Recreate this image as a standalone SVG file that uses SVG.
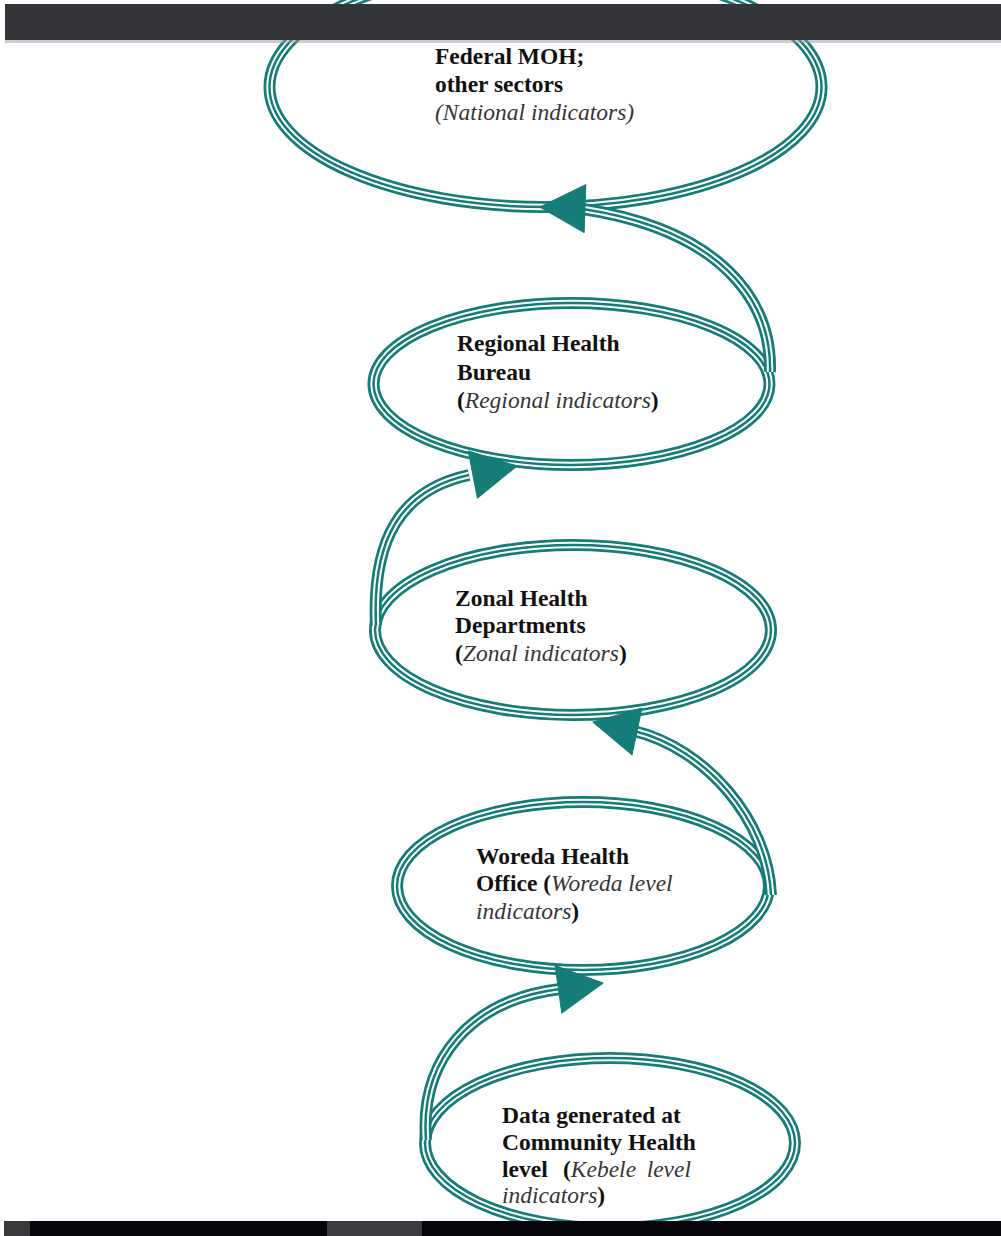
<svg xmlns="http://www.w3.org/2000/svg" width="1001" height="1236" viewBox="0 0 1001 1236">
<style>
.o{fill:none;stroke:#157c77;stroke-width:12}
.w{fill:none;stroke:#ffffff;stroke-width:6.5}
.n{fill:none;stroke:#157c77;stroke-width:2.5}
.ah{fill:#157c77;stroke:#157c77;stroke-width:1;stroke-linejoin:round}
.t{font-family:"Liberation Serif","Times New Roman",serif;font-size:23.5px;fill:#111111}
.b{font-weight:bold}
.i{font-style:italic;font-weight:normal;fill:#353535}
</style>
<defs>
<path id="arrow" d="M0,0 L-45,-24 L-45,24 Z"/>
</defs>
<rect x="0" y="0" width="1001" height="1236" fill="#ffffff"/>

<g id="node-federal">
<ellipse class="o" cx="545.5" cy="87" rx="276" ry="120"/>
<ellipse class="w" cx="545.5" cy="87" rx="276" ry="120"/>
<ellipse class="n" cx="545.5" cy="87" rx="276" ry="120"/>
<text class="t b" x="435" y="64">Federal MOH;</text>
<text class="t b" x="435" y="92">other sectors</text>
<text class="t i" x="435" y="120">(National indicators)</text>
</g>

<g id="node-regional">
<ellipse class="o" cx="571.5" cy="384" rx="198" ry="81"/>
<ellipse class="w" cx="571.5" cy="384" rx="198" ry="81"/>
<ellipse class="n" cx="571.5" cy="384" rx="198" ry="81"/>
<text class="t b" x="457" y="351">Regional Health</text>
<text class="t b" x="457" y="380">Bureau</text>
<text class="t b" x="457" y="408">(<tspan class="i">Regional indicators</tspan>)</text>
</g>

<g id="node-zonal">
<ellipse class="o" cx="573" cy="630" rx="198" ry="85"/>
<ellipse class="w" cx="573" cy="630" rx="198" ry="85"/>
<ellipse class="n" cx="573" cy="630" rx="198" ry="85"/>
<text class="t b" x="455" y="606">Zonal Health</text>
<text class="t b" x="455" y="633">Departments</text>
<text class="t b" x="455" y="661">(<tspan class="i">Zonal indicators</tspan>)</text>
</g>

<g id="node-woreda">
<ellipse class="o" cx="583" cy="886" rx="186" ry="84"/>
<ellipse class="w" cx="583" cy="886" rx="186" ry="84"/>
<ellipse class="n" cx="583" cy="886" rx="186" ry="84"/>
<text class="t b" x="476" y="864">Woreda Health</text>
<text class="t b" x="476" y="891">Office (<tspan class="i">Woreda level</tspan></text>
<text class="t b" x="476" y="919"><tspan class="i">indicators</tspan>)</text>
</g>

<g id="node-community">
<ellipse class="o" cx="610" cy="1143" rx="185" ry="85"/>
<ellipse class="w" cx="610" cy="1143" rx="185" ry="85"/>
<ellipse class="n" cx="610" cy="1143" rx="185" ry="85"/>
<text class="t b" x="502" y="1123">Data generated at</text>
<text class="t b" x="502" y="1150">Community Health</text>
<text class="t b" x="502" y="1177">level</text>
<text class="t b" x="563" y="1177">(<tspan class="i">Kebele</tspan></text>
<text class="t i" x="691" y="1177" text-anchor="end">level</text>
<text class="t b" x="502" y="1203"><tspan class="i">indicators</tspan>)</text>
</g>

<g id="connectors">
<path class="o" d="M770,372 C772,300 720,230 583,209"/>
<path class="w" d="M770,372 C772,300 720,230 583,209"/>
<path class="n" d="M770,372 C772,300 720,230 583,209"/>
<use href="#arrow" class="ah" transform="translate(540,207) rotate(182)"/>

<path class="o" d="M376,625 C372,540 400,490 469,475"/>
<path class="w" d="M376,625 C372,540 400,490 469,475"/>
<path class="n" d="M376,625 C372,540 400,490 469,475"/>
<use href="#arrow" class="ah" transform="translate(517,466) rotate(-11)"/>

<path class="o" d="M771,895 C768,820 705,748 634,731"/>
<path class="w" d="M771,895 C768,820 705,748 634,731"/>
<path class="n" d="M771,895 C768,820 705,748 634,731"/>
<use href="#arrow" class="ah" transform="translate(593,722) rotate(192)"/>

<path class="o" d="M426,1140 C420,1060 470,1000 560,989"/>
<path class="w" d="M426,1140 C420,1060 470,1000 560,989"/>
<path class="n" d="M426,1140 C420,1060 470,1000 560,989"/>
<use href="#arrow" class="ah" transform="translate(603,983) rotate(-8)"/>
</g>

<g id="frame">
<rect x="5" y="4" width="996" height="36" fill="#333538"/>
<rect x="5" y="40" width="996" height="3" fill="#9a9c9e" opacity="0.5"/>
<rect x="4" y="1221" width="997" height="15" fill="#05050a"/>
<rect x="4" y="1221" width="26" height="15" fill="#3a3a3c"/>
<rect x="327" y="1221" width="95" height="15" fill="#3a3c40"/>
</g>
</svg>
